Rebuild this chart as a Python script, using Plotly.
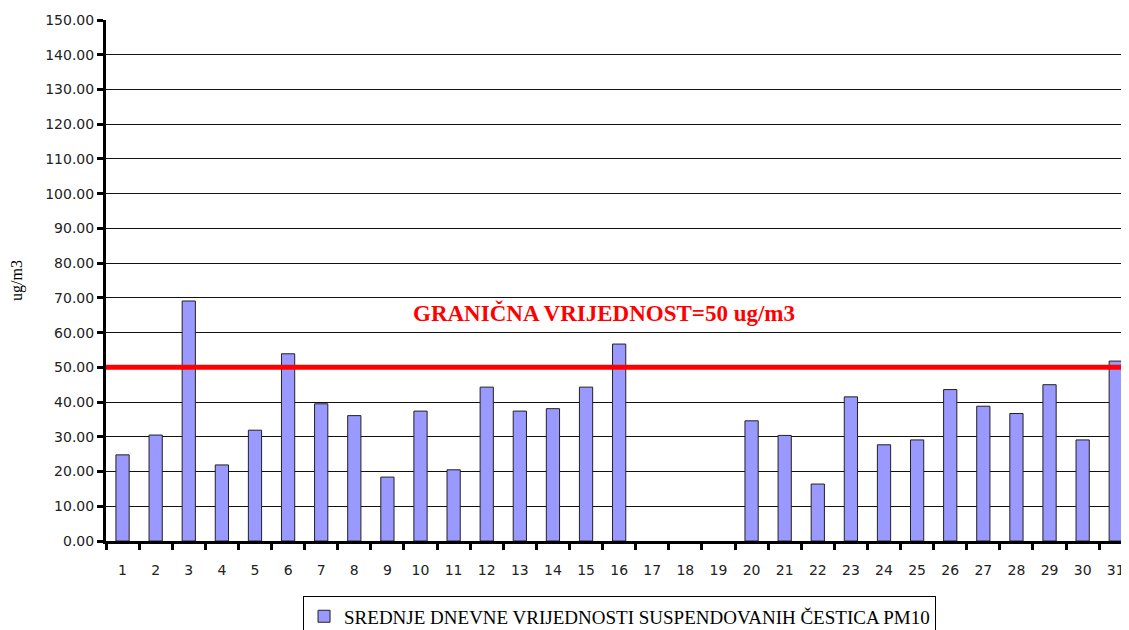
import plotly.graph_objects as go

days = list(range(1, 32))
pm10 = [24.8, 30.5, 69.1, 21.9, 31.9, 53.9, 39.5, 36.1, 18.4, 37.4,
        20.5, 44.3, 37.4, 38.1, 44.3, 56.7, None, None, None, 34.6,
        30.4, 16.4, 41.5, 27.7, 29.1, 43.6, 38.8, 36.7, 45.0, 29.1, 51.8]
limit_value = 50
series_name = "SREDNJE DNEVNE VRIJEDNOSTI SUSPENDOVANIH ČESTICA PM10"
limit_label = "GRANIČNA VRIJEDNOST=50 ug/m3"
y_ticks = [i * 10 for i in range(16)]

fig = go.Figure()
fig.add_trace(go.Bar(
    x=days, y=pm10, name=series_name, width=0.4,
    marker=dict(color="#9999FF", line=dict(color="#222222", width=1)),
))

fig.add_shape(type="line", xref="paper", yref="y", x0=0, x1=1,
              y0=limit_value, y1=limit_value,
              line=dict(color="#FF0000", width=5), layer="above")

fig.add_annotation(x=0.487, xref="paper", y=65.6, yref="y", text="<b>" + limit_label + "</b>",
                   showarrow=False, font=dict(family="Liberation Serif", size=23, color="#FF0000"))

# page body has an 8px default margin; compensate so the plot lands where the reference has it
fig.update_layout(
    width=1121, height=622,
    margin=dict(l=98, r=0, t=12, b=89, autoexpand=False),
    plot_bgcolor="white", paper_bgcolor="white",
    showlegend=True,
    legend=dict(orientation="h", x=0.502, xanchor="center",
                yref="container", y=0.054, yanchor="top",
                bordercolor="black", borderwidth=1,
                font=dict(family="Liberation Serif", size=19, color="black")),
    bargap=0.6,
)
fig.update_xaxes(
    range=[0.5, 31.4], tickmode="array", tickvals=days, ticktext=[str(d) for d in days],
    ticks="", showgrid=False, zeroline=False,
    showline=True, linecolor="black", linewidth=3,
    tickfont=dict(family="DejaVu Sans", size=14, color="#222222"),
    ticklabelstandoff=14,
    minor=dict(tickmode="linear", tick0=0.5, dtick=1, ticks="outside", ticklen=6,
               tickwidth=3, tickcolor="black", showgrid=False),
)
fig.update_yaxes(
    range=[0, 150], tickmode="array", tickvals=y_ticks,
    ticktext=[f"{v:.2f}" for v in y_ticks],
    ticks="outside", ticklen=6, tickwidth=3, tickcolor="black",
    showgrid=True, gridcolor="#111111", gridwidth=1, zeroline=False,
    showline=True, linecolor="black", linewidth=3,
    tickfont=dict(family="DejaVu Sans", size=14, color="#222222"),
    title=dict(text="ug/m3", font=dict(family="Liberation Serif", size=16, color="black"), standoff=22),
)

fig.write_html("out.html")
